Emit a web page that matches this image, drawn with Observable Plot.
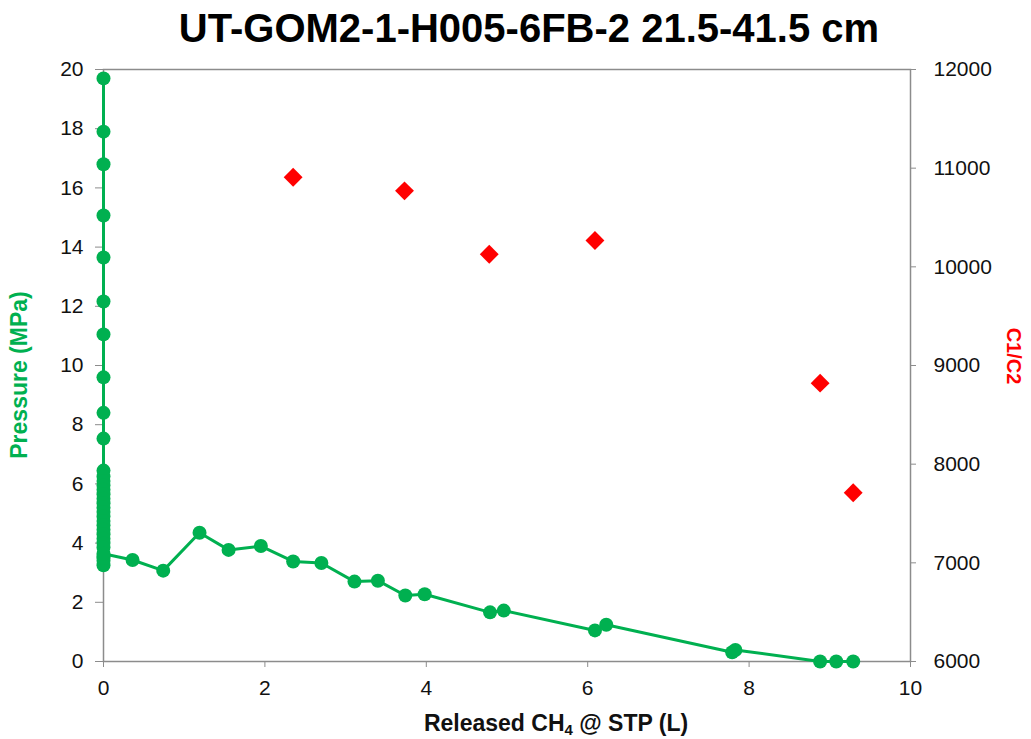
<!DOCTYPE html>
<html>
<head>
<meta charset="utf-8">
<script src="https://cdn.jsdelivr.net/npm/d3@7"></script>
<script src="https://cdn.jsdelivr.net/npm/@observablehq/plot@0.6"></script>
<style>
  html, body { margin: 0; padding: 0; background: #fff; }
  body { width: 1031px; height: 739px; overflow: hidden; font-family: "Liberation Sans", Arial, sans-serif; position: relative; }
  #title { height: 55px; line-height: 56px; text-align: center; font-weight: bold; font-size: 40px; color: #000; padding-left: 27px; }
  #chart svg { display: block; overflow: visible; }
  .ylab { position: absolute; font-weight: bold; font-size: 23px; white-space: nowrap; }
</style>
</head>
<body>
<div id="title">UT-GOM2-1-H005-6FB-2 21.5-41.5 cm</div>
<div id="chart"></div>
<div class="ylab" id="ylabL" style="color:#00B050; left:19px; top:375px; transform: translate(-50%,-50%) rotate(-90deg);">Pressure (MPa)</div>
<div class="ylab" id="ylabR" style="color:#FF0000; left:1013px; top:356px; font-size:20px; transform: translate(-50%,-50%) rotate(90deg);">C1/C2</div>
<script>
// Released CH4 (L) and pressure (MPa)
const releasedX = [0, 0, 0, 0, 0, 0, 0, 0, 0, 0, 0,
  0, 0, 0, 0, 0, 0, 0, 0, 0, 0, 0, 0, 0, 0, 0, 0, 0, 0, 0, 0, 0, 0,
  0.36, 0.74, 1.19, 1.55, 1.95, 2.35, 2.70, 3.11, 3.40, 3.74, 3.98, 4.79, 4.96, 6.09, 6.23, 7.79, 7.83, 8.88, 9.08, 9.29];
const pressure = [19.7, 17.9, 16.8, 15.07, 13.65, 12.16, 11.05, 9.6, 8.4, 7.53, 6.45,
  6.25, 6.1, 5.95, 5.8, 5.65, 5.5, 5.35, 5.2, 5.05, 4.9, 4.75, 4.6, 4.45, 4.3, 4.15, 4.0, 3.85, 3.55, 3.4, 3.25, 3.5, 3.64,
  3.43, 3.07, 4.35, 3.77, 3.9, 3.38, 3.33, 2.70, 2.73, 2.23, 2.27, 1.66, 1.72, 1.05, 1.24, 0.31, 0.39, 0, 0, 0];

// C1/C2 ratio (right axis)
const ratioX = [2.35, 3.73, 4.78, 6.09, 8.88, 9.29];
const ratio = [10908, 10770, 10128, 10267, 8821, 7710];

const xTicks = [0, 2, 4, 6, 8, 10];
const leftTicks = [0, 2, 4, 6, 8, 10, 12, 14, 16, 18, 20];
const rightTicks = [6000, 7000, 8000, 9000, 10000, 11000, 12000];

// map right-axis values onto the pressure scale (6000..12000 -> 0..20)
const toP = c => (c - 6000) / 300;
const fromP = p => String(Math.round(p * 300 + 6000));

const pts = releasedX.map((x, i) => ({x, p: pressure[i]}));
const rpts = ratioX.map((x, i) => ({x, p: toP(ratio[i]), r: ratio[i]}));

const green = "#00B050";
const axisGray = "#8c8c8c";

const chart = Plot.plot({
  width: 1031,
  height: 684,
  marginLeft: 103,
  marginRight: 121,
  marginTop: 14,
  marginBottom: 78,
  style: { fontFamily: "Liberation Sans, Arial, sans-serif", fontSize: "21px", color: "#111", overflow: "visible" },
  x: { domain: [0, 10] },
  y: { domain: [0, 20] },
  marks: [
    Plot.frame({ stroke: axisGray, strokeWidth: 1.5 }),
    Plot.axisX({ ticks: xTicks, tickFormat: d => String(d), tickSize: 6, tickPadding: 13, stroke: axisGray, label: null, fontSize: 21, fill: "#111" }),
    Plot.axisY({ anchor: "left", ticks: leftTicks, tickFormat: d => String(d), tickSize: 8, tickPadding: 12, stroke: axisGray, label: null, fontSize: 21, fill: "#111" }),
    Plot.axisY({ anchor: "right", ticks: rightTicks.map(toP), tickFormat: fromP, tickSize: 5, tickPadding: 18, stroke: axisGray, label: null, fontSize: 21, fill: "#111" }),
    Plot.line(pts, { x: "x", y: "p", stroke: green, strokeWidth: 3 }),
    Plot.dot(pts, { x: "x", y: "p", r: 7, fill: green, stroke: null }),
    Plot.dot(rpts, { x: "x", y: "p", symbol: "diamond2", r: 8.5, fill: "#FF0000", stroke: null })
  ]
});
document.getElementById("chart").appendChild(chart);

// x-axis title with subscript, as real SVG text
const svg = d3.select(chart);
const t = svg.append("text")
  .attr("x", 556).attr("y", 676)
  .attr("text-anchor", "middle")
  .attr("font-family", "Liberation Sans, Arial, sans-serif")
  .attr("font-weight", "bold").attr("font-size", 23).attr("fill", "#111");
t.append("tspan").text("Released CH");
t.append("tspan").attr("font-size", 15).attr("dy", 4).text("4");
t.append("tspan").attr("dy", -4).text(" @ STP (L)");
</script>
</body>
</html>
